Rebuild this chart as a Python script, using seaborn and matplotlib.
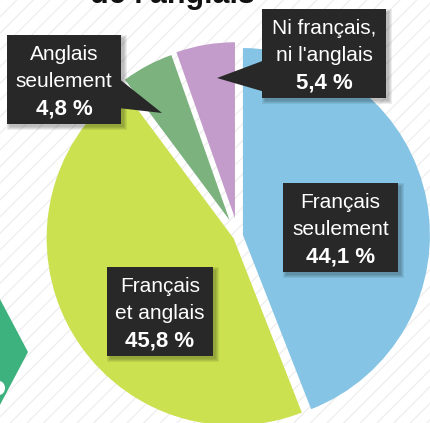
import matplotlib
matplotlib.use("Agg")
import matplotlib.pyplot as plt
from matplotlib.patches import Rectangle, Polygon, Ellipse
import seaborn as sns

# Language knowledge shares (%)
categories = ["Français seulement", "Français et anglais",
              "Anglais seulement", "Ni français, ni l'anglais"]
label_lines = [("Français", "seulement"), ("Français", "et anglais"),
               ("Anglais", "seulement"), ("Ni français,", "ni l'anglais")]
shares = [44.1, 45.8, 4.8, 5.4]
title = "de l'anglais"

colors = sns.color_palette(["#85C4E4", "#CBE150", "#7BB27E", "#C39CCB"])
box_color = "#282828"

W, H = 430, 423
sns.set_theme(style="white")
plt.rcParams["font.family"] = ["Liberation Sans", "DejaVu Sans"]
plt.rcParams["hatch.linewidth"] = 1.0

fig = plt.figure(figsize=(W / 100, H / 100), dpi=100)
ax = fig.add_axes([0, 0, 1, 1])


def py(y):
    """Pixel row (from top) to data y."""
    return H - y


# striped backdrop
ax.add_patch(Rectangle((0, 0), W, H, facecolor="white", edgecolor="#efefef",
                       hatch="//", lw=0, zorder=0))

# decorative corner badge
ax.add_patch(Polygon([(-8, py(284)), (28, py(352)), (-8, py(420))],
                     closed=True, facecolor="#3DB27E", lw=0, zorder=1))
ax.add_patch(Ellipse((-1, py(388)), 12, 14, facecolor="white", lw=0, zorder=1))

# pie
radii = [187, 187, 175, 176]
offsets = [5, 5, 18, 18]
wedges, _ = ax.pie(shares, colors=colors, startangle=90, counterclock=False,
                   radius=187, center=(238, py(236)), explode=offsets,
                   wedgeprops=dict(linewidth=0))
for w, r in zip(wedges, radii):
    w.set_radius(r)
    w.set_zorder(2)

ax.set_xlim(0, W)
ax.set_ylim(0, H)
ax.set_aspect("auto")
ax.axis("off")

# title (upper lines run off the top edge)
ax.text(172, py(3), title, ha="center", va="baseline", fontsize=22,
        fontweight="bold", color="#111111", zorder=5)


def fmt(v):
    return f"{v:.1f}".replace(".", ",") + " %"


def label_box(x0, y0, x1, lines, value, pointer=None):
    y1 = y0 + 89
    # soft drop shadow
    for k in range(4):
        ax.add_patch(Rectangle((x0 + 3 - k, py(y1 + 3 + k)), (x1 - x0) + 2 * k,
                               (y1 - y0) + 2 * k, facecolor="black",
                               alpha=0.07, lw=0, zorder=6))
    if pointer is not None:
        ax.add_patch(Polygon([(px, py(pyy)) for px, pyy in pointer], closed=True,
                             facecolor=box_color, lw=0, zorder=7))
    ax.add_patch(Rectangle((x0, py(y1)), x1 - x0, y1 - y0,
                           facecolor=box_color, lw=0, zorder=7))
    cx = (x0 + x1) / 2
    ax.text(cx, py(y0 + 25), lines[0], ha="center", va="baseline",
            fontsize=15, color="white", zorder=8)
    ax.text(cx, py(y0 + 52), lines[1], ha="center", va="baseline",
            fontsize=15, color="white", zorder=8)
    ax.text(cx, py(y0 + 79), fmt(value), ha="center", va="baseline",
            fontsize=16, fontweight="bold", color="white", zorder=8)


label_box(283, 183, 398, label_lines[0], shares[0])
label_box(107, 267, 213, label_lines[1], shares[1])
label_box(7, 35, 121, label_lines[2], shares[2],
          pointer=[(118, 78), (162, 113), (118, 108)])
label_box(262, 9, 386, label_lines[3], shares[3],
          pointer=[(265, 60), (217, 78), (265, 92)])

fig.savefig("out.png", dpi=100)
